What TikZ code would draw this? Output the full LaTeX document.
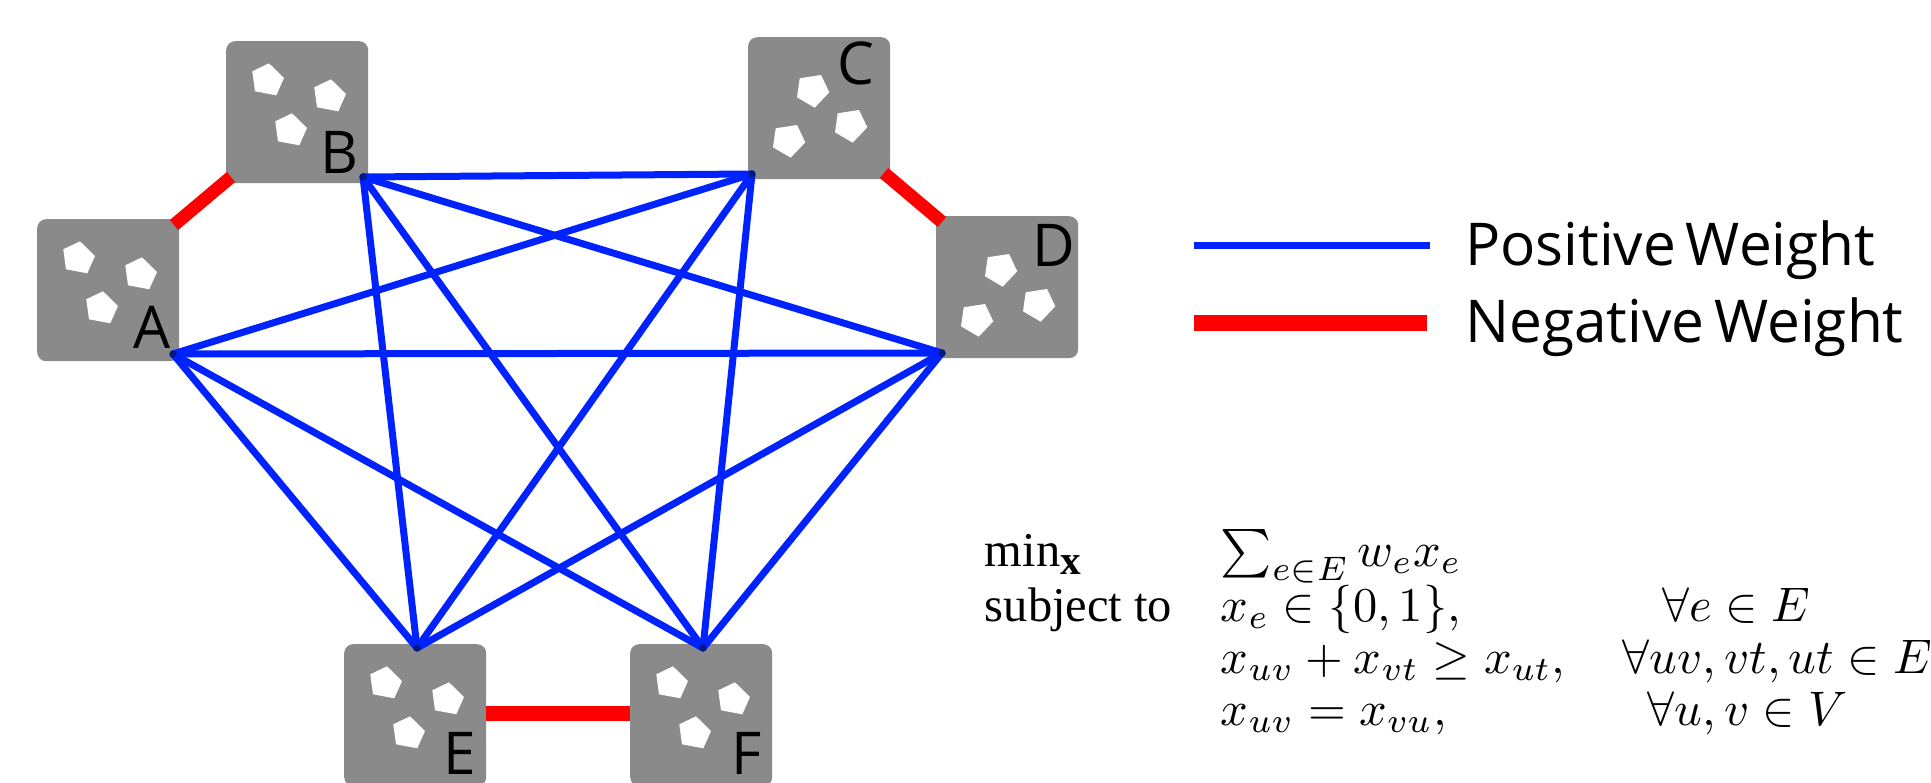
\documentclass[tikz,border=0pt]{standalone}
\usepackage{fontspec}
\newfontfamily\labelfont[WordSpace=0.65,FakeStretch=0.992]{Open Sans}
\newfontfamily\formulatext{Liberation Serif}
\definecolor{boxgray}{HTML}{8A8A8A}
\definecolor{edgeblue}{HTML}{0022FF}
\definecolor{edgered}{HTML}{FF0000}
\definecolor{tipblue}{HTML}{001A80}
\tikzset{
  x=1pt,y=-1pt,
  clientbox/.style={draw=none,fill=boxgray,rounded corners=9pt,minimum width=142pt,minimum height=142pt,inner sep=0pt,anchor=north west},
  boxletter/.style={inner sep=0pt,anchor=base east,font=\labelfont\fontsize{59}{59}\selectfont,text=black},
  legendtext/.style={inner sep=0pt,anchor=base west,font=\labelfont\fontsize{59}{59}\selectfont,text=black},
  blueedge/.style={draw=edgeblue,line width=7pt},
  rededge/.style={draw=edgered,line width=13pt},
  formula/.style={inner sep=0pt,scale=4.85,text=black,font=\formulatext},
  formulaleft/.style={formula,anchor=base west},
  tipdot/.style={circle,fill=tipblue,inner sep=0pt,minimum size=7.5pt},
  pentagon/.style={fill=white,draw=none},
  stones a/.pic={
    \foreach \cx/\cy in {42/38,104/54,65/88}{
      \fill[pentagon,shift={(\cx,\cy)}] (1,-15.7)--(16,-1)--(8.3,16.3)--(-13,12.3)--(-15.7,-7.7)--cycle;}
  },
  stones c/.pic={
    \foreach \cx/\cy in {65/54,103/89,41/104}{
      \fill[pentagon,shift={(\cx,\cy)}] (-13.3,-12.7)--(8,-16)--(16.3,1.3)--(1.7,16.7)--(-16,6.3)--cycle;}
  },
}
\begin{document}
\begin{tikzpicture}
\useasboundingbox (0,0) rectangle (1931,783);
% boxes
\node[clientbox] (boxA) at (37,219) {};
\node[clientbox] (boxB) at (226,41) {};
\node[clientbox] (boxC) at (748,37) {};
\node[clientbox] (boxD) at (936,216) {};
\begin{scope}
\clip (0,0) rectangle (1931,783);
\node[clientbox] (boxE) at (344,644) {};
\node[clientbox] (boxF) at (630,644) {};
\end{scope}
\pic at (37,219) {stones a};
\pic at (226,41) {stones a};
\pic at (748,37) {stones c};
\pic at (936,216) {stones c};
\pic at (344,644) {stones a};
\pic at (630,644) {stones a};
% letters
\node[boxletter] (lA) at (171,349) {A};
\node[boxletter] (lB) at (359,174) {B};
\node[boxletter] (lC) at (875,85) {C};
\node[boxletter] (lD) at (1075,267) {D};
\node[boxletter] (lE) at (476,774) {E};
\node[boxletter] (lF) at (762,774) {F};
% connector ends
\coordinate (a) at (173,354);
\coordinate (b) at (363,177);
\coordinate (c) at (752,174);
\coordinate (d) at (942,353);
\coordinate (e) at (417,648);
\coordinate (f) at (703,648);
\coordinate (abA) at (174,225);
\coordinate (abB) at (231,177);
\coordinate (cdC) at (884,173);
\coordinate (cdD) at (942,222);
% red edges
\draw[rededge] (abA) -- (abB);
\draw[rededge] (cdC) -- (cdD);
\draw[rededge,line width=15pt] (boxE.east |- 0,713) -- (boxF.west |- 0,713);
% blue edges
\foreach \p/\q in {b/c,b/d,b/e,b/f,a/c,a/d,a/e,a/f,c/e,c/f,d/e,d/f}
  \draw[blueedge] (\p) -- (\q);
\foreach \p in {a,b,c,d,e,f}
  \node[tipdot] at (\p) {};
% legend
\coordinate (legB1) at (1194,246);
\coordinate (legB2) at (1430,246);
\coordinate (legR1) at (1194,323);
\coordinate (legR2) at (1427,323);
\draw[blueedge] (legB1) -- (legB2);
\draw[rededge,line width=16pt] (legR1) -- (legR2);
\node[legendtext] (posw) at (1465,266) {Positive Weight};
\node[legendtext] (negw) at (1465,343) {Negative Weight};
% formula
\node[formulaleft] (f1a) at (984,566) {min\raisebox{-0.17em}{\fontsize{8.5}{9}\selectfont\bfseries x}};
\node[formulaleft] (f1b) at (1220,566) {$\sum_{e\in E} w_e x_e$};
\node[formulaleft] (f2a) at (984,621) {subject to};
\node[formulaleft] (f2b) at (1220,621) {$x_e\in\{0,1\},$};
\node[formulaleft] (f2c) at (1662,621) {$\forall e\in E$};
\node[formulaleft] (f3b) at (1220,673) {$x_{uv}+x_{vt}\geq x_{ut},$};
\node[formulaleft] (f3c) at (1622,673) {$\forall uv,vt,ut\in E$};
\node[formulaleft] (f4b) at (1220,725) {$x_{uv}=x_{vu},$};
\node[formulaleft] (f4c) at (1647,725) {$\forall u,v\in V$};
\end{tikzpicture}
\end{document}
